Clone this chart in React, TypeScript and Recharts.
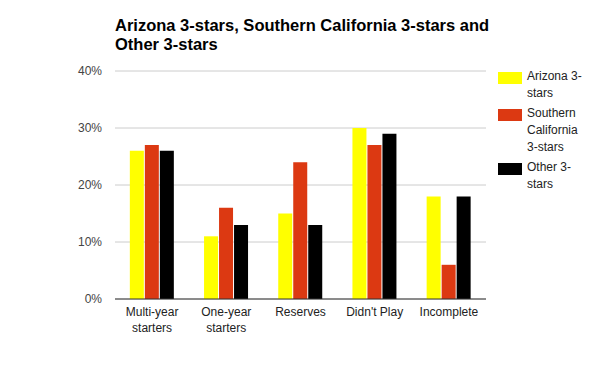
import React from "react";
import { BarChart, Bar, XAxis, YAxis, CartesianGrid, Text } from "recharts";

const categories = ["Multi-year starters", "One-year starters", "Reserves", "Didn't Play", "Incomplete"];
const arizona = [26, 11, 15, 30, 18];
const southernCalifornia = [27, 16, 24, 27, 6];
const other = [26, 13, 13, 29, 18];
const yTicks = [0, 10, 20, 30, 40];

const seriesInfo = [
  { key: "arizona", lines: ["Arizona 3-", "stars"], color: "#ffff00" },
  { key: "socal", lines: ["Southern", "California", "3-stars"], color: "#dc3912" },
  { key: "other", lines: ["Other 3-", "stars"], color: "#000000" },
];

const data = categories.map((name, i) => ({
  name,
  arizona: arizona[i],
  socal: southernCalifornia[i],
  other: other[i],
}));

const FONT = "Arial, 'Liberation Sans', sans-serif";

function CategoryTick(props: any) {
  const { x, y, payload } = props;
  return (
    <Text
      x={x}
      y={y}
      width={72}
      textAnchor="middle"
      verticalAnchor="start"
      lineHeight={16}
      fontSize={12}
      fontFamily={FONT}
      fill="#222222"
    >
      {payload.value}
    </Text>
  );
}

function Legend() {
  let top = 72;
  return (
    <div style={{ position: "absolute", left: 498, top: 0, fontFamily: FONT, fontSize: 12, color: "#222" }}>
      {seriesInfo.map((s) => {
        const block = (
          <div key={s.key} style={{ position: "absolute", top, left: 0, width: 100 }}>
            <div style={{ position: "absolute", left: 0, top: 0, width: 24, height: 12, background: s.color }} />
            <div style={{ position: "absolute", left: 29, top: -4, lineHeight: "17px", whiteSpace: "nowrap" }}>
              {s.lines.map((l) => (
                <div key={l}>{l}</div>
              ))}
            </div>
          </div>
        );
        top += s.lines.length * 17 + 3;
        return block;
      })}
    </div>
  );
}

export default function App() {
  return (
    <div style={{ position: "absolute", left: 0, top: 0, width: 600, height: 371, background: "#fff" }}>
      <div
        style={{
          position: "absolute",
          left: 115,
          top: 16,
          fontFamily: FONT,
          fontWeight: "bold",
          fontSize: 16.5,
          lineHeight: "19px",
          color: "#000",
        }}
      >
        <div>Arizona 3-stars, Southern California 3-stars and</div>
        <div>Other 3-stars</div>
      </div>
      <BarChart
        width={600}
        height={371}
        data={data}
        margin={{ top: 71, right: 114, bottom: 0, left: 0 }}
        barCategoryGap="20%"
        barGap={1}
      >
        <CartesianGrid vertical={false} stroke="#cccccc" />
        <XAxis
          dataKey="name"
          height={72}
          axisLine={{ stroke: "#333333" }}
          tickLine={false}
          tickSize={0}
          tickMargin={8}
          interval={0}
          tick={<CategoryTick />}
        />
        <YAxis
          width={115}
          domain={[0, 40]}
          ticks={yTicks}
          tickFormatter={(v: number) => `${v}%`}
          axisLine={false}
          tickLine={false}
          tickSize={0}
          tickMargin={13}
          tick={{ fontSize: 12, fill: "#444444", fontFamily: FONT }}
        />
        {seriesInfo.map((s) => (
          <Bar key={s.key} dataKey={s.key} fill={s.color} isAnimationActive={false} />
        ))}
      </BarChart>
      <Legend />
    </div>
  );
}
